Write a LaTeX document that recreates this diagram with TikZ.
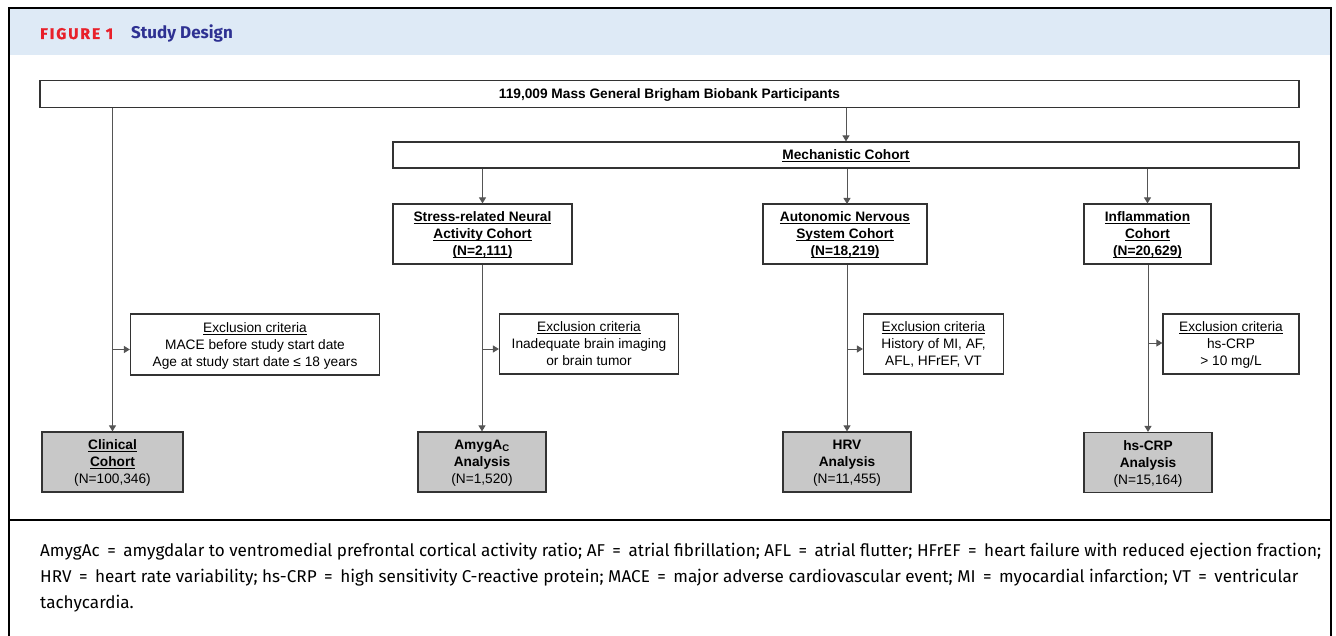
\documentclass[tikz,border=0pt]{standalone}
\usepackage{fontspec}
\setmainfont{Liberation Sans}
\newfontfamily\notefont{Fira Sans}
\newfontfamily\headfont{Fira Sans}
\usetikzlibrary{arrows.meta}
\definecolor{hdrblue}{HTML}{DEEAF6}
\definecolor{figred}{HTML}{E8202A}
\definecolor{figblue}{HTML}{2E3192}
\definecolor{boxgray}{HTML}{C8C8C8}
\definecolor{linegray}{HTML}{555555}
\definecolor{boxline}{HTML}{333333}
\newcommand\uln[1]{\underline{\raisebox{0pt}[\height][0pt]{#1}}}
\newcommand\eq{\hspace{7.5pt}=\hspace{7.5pt}}
\begin{document}
\begin{tikzpicture}[x=1pt,y=-1pt,
  box/.style={draw=boxline, line width=1.2pt, rectangle, inner sep=0pt, align=center,
    text depth=0pt, font=\fontsize{13.7}{17}\selectfont},
  bbox/.style={box, font=\fontsize{13.7}{17}\selectfont\bfseries},
  gbox/.style={box, fill=boxgray},
  conn/.style={draw=linegray, line width=1pt, -{Triangle[length=6pt,width=7pt]}},
  note/.style={anchor=base west, inner sep=0pt, font=\notefont\fontsize{17.1}{26}\selectfont}
]
\useasboundingbox (0,0) rectangle (1336,636);
\begin{scope}
\clip (0,0) rectangle (1336,636);
% header band and frame
\fill[hdrblue] (9,9) rectangle (1330,55);
\draw[line width=2pt] (8.5,8.5) rectangle (1330.5,680);
\draw[line width=2pt] (8.5,519.5) -- (1330.5,519.5);
\end{scope}
\node[anchor=base west, inner sep=0pt, text=figred,
  font=\headfont\fontsize{15.5}{17}\selectfont\bfseries\addfontfeatures{LetterSpace=13,FakeBold=1.2}]
  (figlab) at (40,39) {FIGURE 1};
\node[anchor=base west, inner sep=0pt, text=figblue,
  font=\headfont\fontsize{17}{19}\selectfont\bfseries]
  (figtitle) at (131,39) {Study Design};

% boxes
\node[bbox, minimum width=1259pt, minimum height=27pt] (top) at (669.5,94) {119,009 Mass General Brigham Biobank Participants};
\node[bbox, minimum width=906pt, minimum height=26pt] (mech) at (846,155) {\uln{Mechanistic Cohort}};
\node[bbox, minimum width=179pt, minimum height=60pt] (stress) at (482.5,234) {\uln{Stress-related Neural}\\\uln{Activity Cohort}\\\uln{(N=2,111)}};
\node[bbox, minimum width=164pt, minimum height=60pt] (auto) at (845,234) {\uln{Autonomic Nervous}\\\uln{System Cohort}\\\uln{(N=18,219)}};
\node[bbox, minimum width=127pt, minimum height=60pt] (infl) at (1147.5,234) {\uln{Inflammation}\\\uln{Cohort}\\\uln{(N=20,629)}};

\node[box, minimum width=249pt, minimum height=61pt] (exa) at (255,344.5) {\uln{Exclusion criteria}\\MACE before study start date\\Age at study start date ≤ 18 years};
\node[box, minimum width=179pt, minimum height=60pt] (exb) at (589,344) {\uln{Exclusion criteria}\\Inadequate brain imaging\\or brain tumor};
\node[box, minimum width=140pt, minimum height=60pt] (exc) at (933.5,344) {\uln{Exclusion criteria}\\History of MI, AF,\\AFL, HFrEF, VT};
\node[box, minimum width=136pt, minimum height=60pt] (exd) at (1231,344) {\uln{Exclusion criteria}\\hs-CRP\\> 10 mg/L};

\node[gbox, minimum width=141pt, minimum height=60pt] (clin) at (112.5,462) {\textbf{\uln{Clinical}}\\\textbf{\uln{Cohort}}\\(N=100,346)};
\node[gbox, minimum width=128pt, minimum height=60pt] (amyg) at (482,462) {\textbf{AmygA\textsubscript{C}}\\\textbf{Analysis}\\(N=1,520)};
\node[gbox, minimum width=128pt, minimum height=60pt] (hrv) at (847,462) {\textbf{HRV}\\\textbf{Analysis}\\(N=11,455)};
\node[gbox, minimum width=128pt, minimum height=60pt] (crp) at (1148,462.5) {\textbf{hs-CRP}\\\textbf{Analysis}\\(N=15,164)};

% connectors
\coordinate (autoin) at (847,204);
\draw[conn] (clin.north |- top.south) -- (clin.north);
\draw[conn] (mech.north |- top.south) -- (mech.north);
\draw[conn] (stress.north |- mech.south) -- (stress.north);
\draw[conn] (autoin |- mech.south) -- (autoin);
\draw[conn] (infl.north |- mech.south) -- (infl.north);

\draw[conn] (stress.south -| amyg.north) -- (amyg.north);
\draw[conn] (auto.south -| hrv.north) -- (hrv.north);
\draw[conn] (infl.south -| crp.north) -- (crp.north);

\path ([yshift=-5pt]exa.west) coordinate (pa);
\path ([yshift=-5pt]exb.west) coordinate (pb);
\path ([yshift=-5pt]exc.west) coordinate (pc);
\path ([yshift=1pt]exd.west) coordinate (pd);
\draw[conn] (clin.north |- pa) -- (pa);
\draw[conn] (amyg.north |- pb) -- (pb);
\draw[conn] (hrv.north |- pc) -- (pc);
\draw[conn] (crp.north |- pd) -- (pd);

% footnote
\node[note] (n1) at (40,556) {AmygAc\eq amygdalar to ventromedial prefrontal cortical activity ratio; AF\eq atrial fibrillation; AFL\eq atrial flutter; HFrEF\eq heart failure with reduced ejection fraction;};
\node[note] (n2) at (40,582) {HRV\eq heart rate variability; hs-CRP\eq high sensitivity C-reactive protein; MACE\eq major adverse cardiovascular event; MI\eq myocardial infarction; VT\eq ventricular};
\node[note] (n3) at (40,608) {tachycardia.};
\end{tikzpicture}
\end{document}
